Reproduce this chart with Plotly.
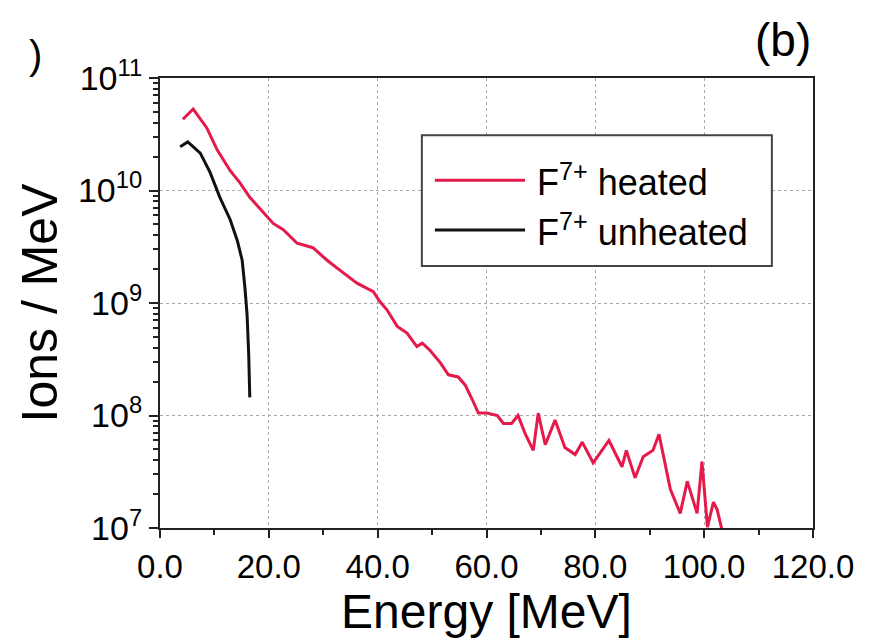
import plotly.graph_objects as go

# Heated F7+ spectrum (red)
heated_E = [4.2, 6.1, 8.6, 10.5, 12.9, 14.7, 16.5, 18.4, 20.8, 22.6, 25.2, 28.1, 30.7, 33.1,
            36.2, 39.2, 40.4, 41.7, 43.6, 45.4, 47.2, 48.2, 49.6, 51.5, 53.0, 54.8, 56.1,
            57.4, 58.5, 60.1, 62.0, 63.1, 64.6, 65.8, 67.1, 68.6, 69.5, 70.8, 72.6, 74.4,
            76.3, 77.6, 79.6, 82.5, 84.9, 85.7, 87.3, 88.8, 90.6, 91.7, 93.8, 95.6, 96.9,
            98.7, 99.6, 100.6, 101.7, 102.4, 103.4]
heated_N = [4.3e10, 5.3e10, 3.6e10, 2.3e10, 1.5e10, 1.17e10, 8.7e9, 6.8e9, 5.1e9, 4.5e9,
            3.4e9, 3.1e9, 2.4e9, 1.95e9, 1.5e9, 1.26e9, 1.03e9, 8.7e8, 6.2e8, 5.4e8, 4.1e8,
            4.4e8, 3.8e8, 2.95e8, 2.3e8, 2.2e8, 1.86e8, 1.38e8, 1.05e8, 1.05e8, 1.0e8,
            8.5e7, 8.5e7, 1.0e8, 6.9e7, 4.9e7, 1.05e8, 5.5e7, 9.1e7, 5.2e7, 4.5e7, 5.8e7,
            3.8e7, 6.0e7, 3.5e7, 4.9e7, 2.8e7, 4.3e7, 4.9e7, 6.8e7, 2.2e7, 1.35e7, 2.6e7,
            1.35e7, 3.9e7, 1.02e7, 1.7e7, 1.45e7, 9.0e6]

# Unheated F7+ spectrum (black)
unheated_E = [3.7, 5.1, 7.4, 9.2, 11.0, 12.9, 14.2, 15.1, 15.6, 16.0, 16.3, 16.5]
unheated_N = [2.45e10, 2.7e10, 2.15e10, 1.45e10, 8.7e9, 5.5e9, 3.6e9, 2.4e9, 1.38e9,
              7.9e8, 3.5e8, 1.45e8]

x_ticks = [0, 20, 40, 60, 80, 100, 120]
x_ticklabels = ["0.0", "20.0", "40.0", "60.0", "80.0", "100.0", "120.0"]
y_ticks = [1e7, 1e8, 1e9, 1e10, 1e11]
y_ticklabels = ["10<sup>7</sup>", "10<sup>8</sup>", "10<sup>9</sup>",
                "10<sup>10</sup>", "10<sup>11</sup>"]
y_minor = [m * 10 ** p for p in range(7, 11) for m in range(2, 10)]
x_minor = [10, 30, 50, 70, 90, 110]

RED = "#e6194b"
BLACK = "#111111"
FONT = "Liberation Sans, Arial, sans-serif"

fig = go.Figure()
fig.add_trace(go.Scatter(x=heated_E, y=heated_N, mode="lines", name="F<sup>7+</sup> heated",
                         line=dict(color=RED, width=3), showlegend=False))
fig.add_trace(go.Scatter(x=unheated_E, y=unheated_N, mode="lines", name="F<sup>7+</sup> unheated",
                         line=dict(color=BLACK, width=3), showlegend=False))

fig.update_layout(
    width=886, height=642,
    margin=dict(l=160, r=73, t=78, b=114),
    paper_bgcolor="white", plot_bgcolor="white",
    font=dict(family=FONT, color="black"),
)
fig.update_xaxes(
    range=[0, 120], tickvals=x_ticks, ticktext=x_ticklabels,
    tickfont=dict(size=33), ticks="outside", ticklen=8, tickwidth=2, tickcolor="#222",
    showline=True, linecolor="#222", linewidth=2, mirror=True,
    showgrid=True, gridcolor="#aaaaaa", griddash="dot", gridwidth=1,
    minor=dict(tickvals=x_minor, ticks="outside", ticklen=5, tickwidth=2, tickcolor="#222", showgrid=False),
    zeroline=False,
    title=dict(text="Energy [MeV]", font=dict(size=48), standoff=6),
)
fig.update_yaxes(
    type="log", range=[7, 11], tickvals=y_ticks, ticktext=y_ticklabels,
    tickfont=dict(size=34), ticks="outside", ticklen=9, tickwidth=2, tickcolor="#222",
    showline=True, linecolor="#222", linewidth=2, mirror=True,
    showgrid=True, gridcolor="#aaaaaa", griddash="dot", gridwidth=1,
    minor=dict(tickvals=y_minor, ticks="outside", ticklen=5, tickwidth=2, tickcolor="#222", showgrid=False),
    zeroline=False,
    title=dict(text="Ions / MeV", font=dict(size=50), standoff=4),
)

# Manual legend box
fig.add_shape(type="rect", xref="paper", yref="paper", x0=0.401, x1=0.937, y0=0.582, y1=0.873,
              line=dict(color="#444", width=2), fillcolor="white", layer="above")
fig.add_shape(type="line", xref="paper", yref="paper", x0=0.421, x1=0.559, y0=0.773, y1=0.773,
              line=dict(color=RED, width=3))
fig.add_shape(type="line", xref="paper", yref="paper", x0=0.421, x1=0.559, y0=0.662, y1=0.662,
              line=dict(color=BLACK, width=3))
fig.add_annotation(xref="paper", yref="paper", x=0.574, y=0.773, xanchor="left", yanchor="middle",
                   text="F<sup>7+</sup> heated", showarrow=False, font=dict(size=36))
fig.add_annotation(xref="paper", yref="paper", x=0.574, y=0.662, xanchor="left", yanchor="middle",
                   text="F<sup>7+</sup> unheated", showarrow=False, font=dict(size=36))

# Panel label and fragment from neighbouring panel
fig.add_annotation(xref="paper", yref="paper", x=0.954, y=1.084, xanchor="center", yanchor="middle",
                   text="(b)", showarrow=False, font=dict(size=46))
fig.add_annotation(xref="paper", yref="paper", x=-0.19, y=1.05, xanchor="center", yanchor="middle",
                   text=")", showarrow=False, font=dict(size=40))

fig.write_html("out.html")
